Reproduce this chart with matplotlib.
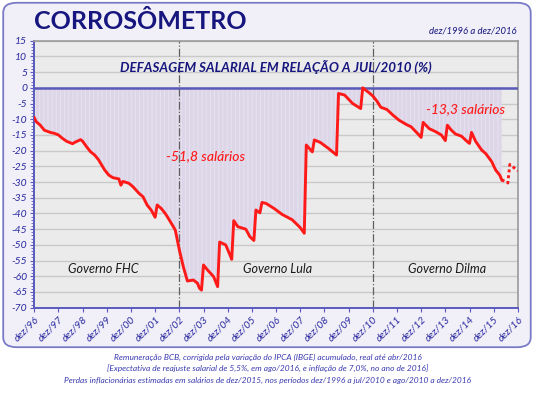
import matplotlib.pyplot as plt
from matplotlib.patches import FancyBboxPatch
from matplotlib.ticker import MultipleLocator

# Meses contados a partir de dez/1996 (0 = dez/96)
real_meses = [0, 1, 3, 5, 8, 10, 12, 14, 16, 19, 20, 23, 24, 26, 28, 30, 32, 33, 35, 37,
              39, 42, 43, 44, 47, 49, 52, 54, 56, 58, 60, 61, 63, 65, 66, 68, 70, 72, 74, 76,
              79, 81, 82, 83, 84, 86, 88, 89, 91, 92, 95, 97, 98, 99, 101, 105, 107, 109, 110, 112,
              113, 115, 119, 123, 128, 132, 134, 135, 138, 139, 142, 146, 150, 151, 154, 158, 162, 163, 166, 168,
              170, 172, 175, 178, 181, 185, 187, 190, 192, 193, 196, 199, 202, 204, 205, 207, 209, 212, 215, 216,
              217, 219, 222, 224, 227, 229, 231, 232]
real_defas = [-9.5, -10.8, -11.9, -13.5, -14.2, -14.5, -15.0, -16.1, -17.0, -17.8, -17.4, -16.5, -17.0, -18.8, -20.4, -21.4, -23.0, -24.1, -26.2, -27.8,
              -28.6, -29.0, -31.0, -29.8, -30.4, -31.5, -33.6, -34.7, -37.3, -38.9, -41.2, -37.3, -38.4, -40.0, -41.0, -43.1, -45.3, -51.6, -57.0, -61.5,
              -61.2, -62.2, -63.8, -64.4, -56.4, -58.0, -59.4, -60.1, -63.3, -49.1, -50.0, -53.0, -54.6, -42.3, -44.2, -45.0, -47.4, -48.6, -38.9, -39.8,
              -36.5, -36.8, -38.4, -40.3, -42.0, -44.5, -46.3, -18.2, -20.4, -16.6, -17.4, -19.3, -21.4, -1.8, -2.3, -5.0, -6.6, 0.0, -1.5, -2.6,
              -4.2, -6.2, -6.9, -8.7, -10.3, -11.8, -12.4, -14.4, -15.8, -11.0, -13.0, -13.9, -15.0, -16.8, -11.9, -13.5, -14.7, -15.4, -17.2, -17.7,
              -14.2, -17.0, -19.8, -20.9, -23.5, -26.2, -27.8, -29.3]

# Projeção (pontilhado) abr/2016 a dez/2016
proj_meses = [232, 235, 236, 240]
proj_defas = [-29.3, -30.3, -24.4, -26.4]

anos = ['dez/%02d' % (a % 100) for a in range(1996, 2017)]
governos = [('Governo FHC', 34), ('Governo Lula', 120.5), ('Governo Dilma', 205)]
perdas = [('-51,8 salários', 85, -21.8), ('-13,3 salários', 214, -6.8)]
rodape = ['Remuneração BCB, corrigida pela variação do IPCA (IBGE) acumulado, real até abr/2016',
          '[Expectativa de reajuste salarial de 5,5%, em ago/2016, e inflação de 7,0%, no ano de 2016]',
          'Perdas inflacionárias estimadas em salários de dez/2015, nos períodos dez/1996 a jul/2010 e ago/2010 a dez/2016']

AZUL = '#2a2aa0'
NAVY = '#16167e'
VERM = '#ff1a1a'
FONTE = 'Lato'

plt.rcParams['font.family'] = [FONTE, 'DejaVu Sans']
plt.rcParams['hatch.linewidth'] = 0.6

fig = plt.figure(figsize=(5.35, 3.95), dpi=100)
fig.patch.set_facecolor('white')

# caixa externa arredondada (atrás dos eixos)
caixa = FancyBboxPatch((0.006, 0.121), 0.986, 0.872,
                       boxstyle='round,pad=0,rounding_size=0.025',
                       transform=fig.transFigure, facecolor='#f1eff8',
                       edgecolor='#7a7ac8', lw=1.3, zorder=-5)
fig.patches.append(caixa)

ax = fig.add_axes([0.064, 0.221, 0.904, 0.676])
ax.set_facecolor('#ebebeb')

ax.fill_between(real_meses, real_defas, 0, facecolor='#ddd6e8',
                edgecolor='#e8e4ef', hatch='||||', lw=0, zorder=1)
ax.plot(real_meses, real_defas, color=VERM, lw=2.1, zorder=4,
        solid_joinstyle='round')
ax.plot(proj_meses, proj_defas, color=VERM, lw=2.1, ls=(0, (1, 1)), zorder=4)

ax.axhline(0, color='#5a5ab8', lw=1.8, zorder=3)
for m in (72, 168):
    ax.axvline(m, color='#606060', lw=0.9, ls='-.', zorder=2)

ax.set_xlim(0, 240)
ax.set_ylim(-70, 15)
ax.yaxis.set_major_locator(MultipleLocator(5))
ax.yaxis.set_minor_locator(MultipleLocator(1))
ax.grid(axis='y', color='#c9c9c9', lw=1.0, zorder=0)
ax.set_axisbelow(True)

ax.set_xticks(range(0, 241, 12))
ax.set_xticklabels(anos, rotation=45, ha='right', rotation_mode='anchor')
ax.set_yticks(range(-70, 16, 5))
ax.set_yticklabels([str(v) for v in range(-70, 16, 5)])
ax.tick_params(axis='both', colors='#5a5ac0', labelcolor=AZUL, labelsize=7.5,
               length=3, width=0.8, pad=2)
ax.tick_params(axis='y', which='minor', colors='#5a5ac0', length=2, width=0.6)
for lbl in ax.get_xticklabels() + ax.get_yticklabels():
    lbl.set_fontstyle('italic')

for s in ('left', 'bottom'):
    ax.spines[s].set_color('#5a5ac0')
    ax.spines[s].set_linewidth(1.4)
for s in ('top', 'right'):
    ax.spines[s].set_color('#9a9a9a')
    ax.spines[s].set_linewidth(1.2)

ax.text(120, 5.2, 'DEFASAGEM SALARIAL EM RELAÇÃO A JUL/2010 (%)', ha='center',
        va='baseline', fontsize=9.6, fontweight='bold', fontstyle='italic', color=NAVY)

for txt, x in governos:
    ax.text(x, -57.7, txt, ha='center', va='center', fontsize=9,
            fontstyle='italic', color='#1a1a1a')
for txt, x, y in perdas:
    ax.text(x, y, txt, ha='center', va='center', fontsize=10,
            fontstyle='italic', fontweight='medium', color=VERM)

fig.text(0.064, 0.927, 'CORROSÔMETRO', fontsize=18, fontweight='bold',
         color=NAVY, ha='left', va='baseline')
fig.text(0.966, 0.914, 'dez/1996 a dez/2016', fontsize=6.8, fontstyle='italic',
         color=NAVY, ha='right', va='baseline')

for i, linha in enumerate(rodape):
    fig.text(0.5, 0.096 - i * 0.029, linha, ha='center', va='center',
             fontsize=6, fontstyle='italic', color='#3a3ab0')

fig.savefig('out.png', dpi=100, facecolor='white')
